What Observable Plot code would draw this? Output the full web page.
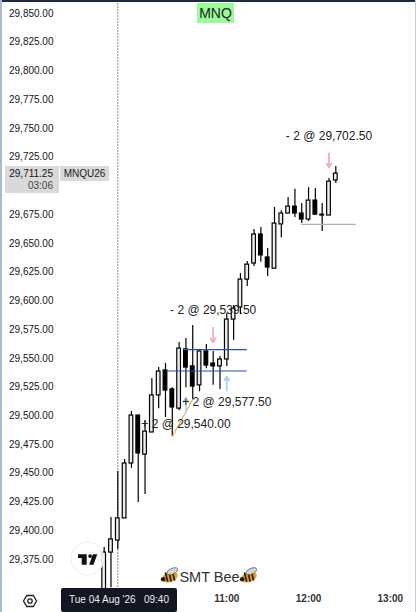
<!doctype html>
<html><head><meta charset="utf-8">
<script src="https://cdn.jsdelivr.net/npm/d3@7"></script>
<script src="https://cdn.jsdelivr.net/npm/@observablehq/plot@0.6"></script>
<style>
html,body{margin:0;padding:0;background:#fff;overflow:hidden}
#c{position:relative;width:416px;height:612px;font-family:"Liberation Sans",Arial,sans-serif;overflow:hidden}
#c svg{display:block}
.o{position:absolute;box-sizing:border-box;white-space:nowrap}
</style></head><body><div id="c"></div>
<script>
// bar offsets in 5-minute steps from 09:40
const bars = d3.range(-2, 33);
const open  = [29339.25,29381,29391.5,29410.75,29458.5,29500.25,29466.25,29485.5,29517.75,29539.5,29523,29506.25,29557.75,29543,29526.5,29556,29545.5,29543,29549,29583.75,29594.25,29618.5,29632.5,29657.75,29637.75,29628,29666.5,29676,29682,29676,29670.75,29687.25,29675,29674.25,29704.75];
const close = [29381,29392.5,29410.75,29458.5,29500.25,29467.25,29486.25,29517.75,29538.5,29522,29507.25,29558.5,29542,29525.5,29556,29543.75,29543,29549,29583.75,29593.25,29618.5,29631.5,29657.75,29639.5,29629,29667.25,29676,29682,29676,29670.75,29687.25,29675,29674.25,29703.75,29710.75];
const high  = [29385.5,29411.5,29451.5,29462,29503.75,29500.25,29496,29532.5,29542,29545.5,29524.5,29563.75,29567.25,29578.5,29557.75,29562,29556,29551.5,29589,29596,29623.75,29634.25,29662,29663.75,29645.5,29681.25,29678.5,29690,29697,29684.75,29698.5,29697.75,29684.75,29706.5,29717];
const low   = [29339.25,29350.5,29383.75,29410.75,29454.25,29424.5,29431.5,29485.5,29506.25,29498.5,29482,29504.5,29524.5,29513.25,29521,29541,29526.5,29523,29543,29565.5,29588,29612.5,29630,29633.5,29621.25,29628,29655,29676,29672.5,29667.25,29669,29675,29660.25,29674.25,29702];
// 29,700.00 sits behind the price tag in the reference
const priceTicks = d3.range(29375, 29851, 25).filter(p => p !== 29700);
const timeTicks = [80, 140, 200];
const timeLabels = ["11:00","12:00","13:00"];
const trades = [
  {bar:31,p:29743,label:"- 2 @ 29,702.50"},
  {bar:14,p:29591.5,label:"- 2 @ 29,539.50"},
  {bar:16,p:29511.5,label:"+ 2 @ 29,577.50"},
  {bar:10,p:29492.5,label:"+ 2 @ 29,540.00"}
];
const sells = [{bar:31,from:29728.25,to:29716},{bar:14,from:29576.75,to:29563.75}];
const buys  = [{bar:16,from:29522,to:29534.25},{bar:10,from:29502.75,to:29516}];
const levels = [
  {a:9.7,b:19,p:29557.5,c:"#2a4fb0"},
  {a:7.2,b:19,p:29539,c:"#2a4fb0"},
  {a:27,b:35,p:29666.5,c:"#b0b0b0"}
];
const tradeLine = [{bar:8,p:29482},{bar:11,p:29514.25}];

const T0 = Date.UTC(2026,7,4,9,40);
const t = m => new Date(T0 + m*60000);
const bt = b => t(b*5);
const candles = bars.map((b,i)=>({b,o:open[i],c:close[i],h:high[i],l:low[i]}));
const up = d=>d.c>=d.o;
const halfBar = 1.35;

const chart = Plot.plot({
  width:416,height:612,marginLeft:57,marginBottom:18,marginTop:0,marginRight:0,
  style:{fontFamily:'"Liberation Sans",Arial,sans-serif',background:"#fff",overflow:"hidden"},
  x:{type:"time",domain:[t(-80),t(220)],range:[8.3,417.05]},
  y:{domain:[29375,29850],range:[559,13]},
  marks:[
    Plot.ruleX([t(0)],{y1:29900,y2:29200,stroke:"#111",strokeWidth:1,strokeDasharray:"1,2"}),
    Plot.ruleX(candles,{x:d=>bt(d.b),y1:"l",y2:"h",stroke:"#000",strokeWidth:1.2}),
    Plot.rect(candles,{x1:d=>t(d.b*5-halfBar),x2:d=>t(d.b*5+halfBar),y1:"o",y2:"c",
      fill:d=>up(d)?"#efefef":"#000",stroke:"#000",strokeWidth:1.2}),
    Plot.ruleY(levels,{x1:d=>bt(d.a),x2:d=>bt(d.b),y:"p",stroke:"c",strokeWidth:1.2}),
    Plot.line(tradeLine,{x:d=>bt(d.bar),y:"p",stroke:"#eeb35e",strokeWidth:1.3}),
    Plot.arrow(sells,{x:d=>bt(d.bar),y1:"from",y2:"to",stroke:"#ecb0ba",strokeWidth:1.8,headLength:5,insetEnd:0,insetStart:0}),
    Plot.arrow(buys,{x:d=>bt(d.bar),y1:"from",y2:"to",stroke:"#acd0ee",strokeWidth:1.8,headLength:5,insetEnd:0,insetStart:0}),
    Plot.text(trades,{x:d=>bt(d.bar),y:"p",text:"label",fontSize:12,fill:"#222"}),
    Plot.axisY({ticks:priceTicks,tickSize:0,tickPadding:4,tickFormat:d3.format(",.2f"),fontSize:10,color:"#131722",label:null,anchor:"left"}),
    Plot.axisX({ticks:timeTicks.map(t),tickSize:0,tickPadding:0,tickFormat:(d,i)=>timeLabels[i],fontSize:10,fontWeight:"bold",color:"#333",label:null,anchor:"bottom"})
  ]
});
const c=document.getElementById("c");
c.appendChild(chart);
function box(x,y,w,h,bg,txt,css){const e=document.createElement("div");e.className="o";
  e.style.cssText=`left:${x}px;top:${y}px;width:${w}px;height:${h}px;background:${bg};${css||""}`;
  if(txt)e.innerHTML=txt;c.appendChild(e);return e;}
// chart frame
box(0,0,416,1.5,"#1e2a44");
box(0,0,1.5,612,"#aab8d2");
box(414.5,0,1.5,612,"#c4ccd8");
// symbol badge
box(197,3,37,20,"#9bfb9b","MNQ","font-size:14px;line-height:20px;text-align:center;color:#222;");
// price tag
box(5,166,54,27,"#d9d9d9",'<div style="position:absolute;right:6px;top:2px">29,711.25</div><div style="position:absolute;right:6px;top:14px;color:#444">03:06</div>',"font-size:10px;line-height:12px;color:#131722;");
box(60,166,49,15,"#d9d9d9","MNQU26","font-size:10px;line-height:15px;text-align:center;color:#222;");
// time pill
box(61,588,116,23.5,"#131722","Tue 04 Aug '26&nbsp;&nbsp;&nbsp;09:40","font-size:10px;line-height:23px;text-align:center;color:#eee;border-radius:2px;");
// settings hexagon, logo, watermark
const ov=document.createElement("div");ov.className="o";ov.style.cssText="left:0;top:0;width:416px;height:612px;pointer-events:none";
const bee=(x,f)=>`<g transform="translate(${x},577) scale(${f*1.15},1.15)">
<ellipse cx="0" cy="0" rx="7" ry="4.5" fill="#e6a21f" transform="rotate(-20)"/>
<path d="M-4,-4 L-2,4 M-1,-5 L1,4 M2,-5 L4,3" stroke="#222" stroke-width="1.5"/>
<ellipse cx="2" cy="-5" rx="5" ry="2.5" fill="#cfd6da" stroke="#555" stroke-width=".6" transform="rotate(-25 2 -5)"/>
<circle cx="-6" cy="2" r="2" fill="#222"/></g>`;
ov.innerHTML=`<svg width="416" height="612" xmlns="http://www.w3.org/2000/svg" style="position:absolute;left:0;top:0">
<path d="M23.5,601 L26.7,595.5 L33.3,595.5 L36.5,601 L33.3,606.5 L26.7,606.5 Z" fill="none" stroke="#222" stroke-width="1.3"/>
<circle cx="30" cy="601" r="2.2" fill="none" stroke="#222" stroke-width="1.3"/>
<circle cx="87.5" cy="558.5" r="16.5" fill="#fff" fill-opacity=".85" stroke="#eeeeee" stroke-width="1"/>
<g transform="translate(78,553) scale(.62)"><path d="M14 2H0v6h6v11h8z" fill="#111"/><circle cx="19.5" cy="5" r="3" fill="#111"/><path d="M31 2h-7l-6 17h7z" fill="#111"/></g>
${bee(170,1)}${bee(249,1)}
<text x="209.5" y="582" text-anchor="middle" font-size="14.5" fill="#333" font-family="Liberation Sans,Arial,sans-serif">SMT Bee</text>
</svg>`;
c.appendChild(ov);
</script></body></html>
